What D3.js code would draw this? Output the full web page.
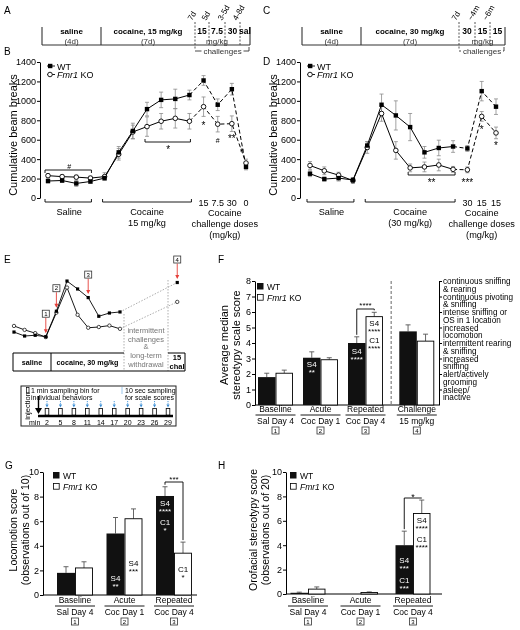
<!DOCTYPE html>
<html><head><meta charset="utf-8">
<script src="https://cdn.jsdelivr.net/npm/d3@7"></script>
<style>body{margin:0;background:#fff}svg{display:block;will-change:transform}text{-webkit-font-smoothing:antialiased}</style>
</head><body><svg id="c" width="520" height="630"></svg>
<script>
// ---------------- DATA ----------------
const aTimes = ["7d","5d","3-5d","4-8d"];
const aDoses = ["15","7.5","30","sal"];
const cTimes = ["7d","~4m","~6m"];
const cDoses = ["30","15","15"];

const lineTicks = [0,200,400,600,800,1000,1200,1400];
const bChallengeDoses = ["15","7.5","30","0"];
const bWT    = [175,180,150,170, 205,470,690,915,1010,1020,1060, 1210,960,1120,320];
const bWTerr = [20,20,30,20, 20,60,80,70,80,100,50, 50,60,60,30];
const bKO    = [230,220,215,205, 220,450,680,735,790,820,790, 940,760,765,360];
const bKOerr = [20,20,20,20, 40,60,70,100,80,100,80, 100,80,80,40];

const dChallengeDoses = ["30","15","15"];
const dWT    = [250,195,205,185, 540,960,850,730,470,515,530, 510,1100,940];
const dWTerr = [30,20,30,20, 40,110,150,140,60,80,60, 30,100,80];
const dKO    = [335,280,235,180, 520,870,490,310,320,340,295, 290,840,670];
const dKOerr = [40,40,30,30, 60,80,90,40,50,60,30, 30,50,60];

const timingMinutes = [2,5,8,11,14,17,20,23,26,29];

const fGroups = ["Baseline","Acute","Repeated","Challenge"];
const fDays   = ["Sal Day 4","Coc Day 1","Coc Day 4","15 mg/kg"];
const fBoxes  = ["1","2","3","4"];
const fTicks  = [0,1,2,3,4,5,6,7,8];
const fWT    = [1.8,3.05,4.0,4.75];
const fWTerr = [0.25,0.38,0.4,0.42];
const fKO    = [2.05,2.92,5.7,4.12];
const fKOerr = [0.2,0.13,0.28,0.45];
const fScaleLabels = [
  ["continuous sniffing","& rearing"],
  ["continuous pivoting","& sniffing"],
  ["intense sniffing or","OS in 1 location"],
  ["increased","locomotion"],
  ["intermittent rearing","& sniffing"],
  ["increased","sniffing"],
  ["alert/actively","grooming"],
  ["asleep/","inactive"]
];

const ghTicks = [0,2,4,6,8,10];
const gWT    = [1.8,5.0,8.05];
const gWTerr = [0.5,1.3,0.75];
const gKO    = [2.2,6.2,3.4];
const gKOerr = [0.5,0.8,0.9];

const hWT    = [0.1,0.0,4.0];
const hWTerr = [0.05,0,1.15];
const hKO    = [0.4,0.12,6.6];
const hKOerr = [0.18,0.05,1.1];

// ---------------- HELPERS ----------------
const FONT = '"Liberation Sans", Arial, Helvetica, sans-serif';
const svg = d3.select("#c").attr("font-family", FONT);

function T(g, x, y, s, o = {}) {
  const t = g.append("text").attr("x", x).attr("y", y)
    .attr("font-size", o.size || 9)
    .attr("text-anchor", o.anchor || "start")
    .attr("fill", o.fill || "#000");
  if (o.weight) t.attr("font-weight", o.weight);
  if (o.italic) t.attr("font-style", "italic");
  if (o.rotate != null) t.attr("transform", `rotate(${o.rotate},${x},${y})`);
  t.text(s);
  return t;
}
function L(g, x1, y1, x2, y2, o = {}) {
  const l = g.append("line").attr("x1", x1).attr("y1", y1).attr("x2", x2).attr("y2", y2)
    .attr("stroke", o.stroke || "#000").attr("stroke-width", o.w || 1);
  if (o.dash) l.attr("stroke-dasharray", o.dash);
  return l;
}
function koText(g, x, y, size) {
  const t = g.append("text").attr("x", x).attr("y", y).attr("font-size", size);
  t.append("tspan").attr("font-style", "italic").text("Fmr1");
  t.append("tspan").text(" KO");
}
function styleAxis(sel, size) {
  sel.attr("font-family", FONT).attr("font-size", size);
  sel.selectAll("text").attr("fill", "#000");
  sel.selectAll("line,path").attr("stroke", "#000");
}
function numBox(g, cx, cy, s) {
  g.append("rect").attr("x", cx - 3.5).attr("y", cy - 3.5).attr("width", 7).attr("height", 7)
    .attr("fill", "#fff").attr("stroke", "#333").attr("stroke-width", 0.8);
  T(g, cx, cy + 2.2, s, {size: 6, anchor: "middle"});
}
function bracket(g, x1, x2, y, dir) {
  L(g, x1, y, x2, y, {w: 0.9});
  L(g, x1, y, x1, y + 3 * dir, {w: 0.9});
  L(g, x2, y, x2, y + 3 * dir, {w: 0.9});
}

// ---------------- PANEL LETTERS ----------------
[["A",4,14],["B",4,55],["C",263,14],["D",263,65],["E",4,263],["F",218,263],["G",5,469],["H",218,469]]
  .forEach(([s,x,y]) => T(svg, x, y, s, {size: 10}));

// ---------------- TIMELINES A / C ----------------
function timeline(o) {
  const g = svg.append("g");
  const y = 45;
  L(g, o.x0, y, o.x1, y, {w: 1.1, stroke: "#333"});
  [o.x0, o.xDiv, o.x1].forEach(x => L(g, x, 27, x, y, {w: 1.1, stroke: "#333"}));
  o.dash.forEach((x, i) => L(g, x, 22, x, i === 0 ? 50 : y, {w: 0.9, stroke: "#444", dash: "2,1.5"}));
  T(g, (o.x0 + o.xDiv) / 2, 34, "saline", {size: 8, weight: "bold", anchor: "middle"});
  T(g, (o.x0 + o.xDiv) / 2, 43.5, "(4d)", {size: 8, anchor: "middle", fill: "#333"});
  T(g, (o.xDiv + o.dash[0]) / 2, 34, o.coc, {size: 8, weight: "bold", anchor: "middle"});
  T(g, (o.xDiv + o.dash[0]) / 2, 43.5, "(7d)", {size: 8, anchor: "middle", fill: "#333"});
  const bounds = o.dash.concat([o.x1]);
  o.doses.forEach((d, i) => T(g, (bounds[i] + bounds[i + 1]) / 2, 34, d, {size: 8.5, weight: "bold", anchor: "middle"}));
  T(g, (o.dash[1] + o.dash[2]) / 2, 43.5, "mg/kg", {size: 8, anchor: "middle", fill: "#333"});
  o.times.forEach((t, i) => T(g, o.dash[i] - 3, 21, t, {size: 8, rotate: -60}));
  const by = 51;
  L(g, o.dash[0], by, o.x1 - 1, by, {w: 0.9, stroke: "#333"});
  L(g, o.x1 - 1, by, o.x1 - 1, 47, {w: 0.9, stroke: "#333"});
  const cx = (o.dash[0] + o.x1) / 2;
  g.append("rect").attr("x", cx - 21).attr("y", 47).attr("width", 42).attr("height", 8).attr("fill", "#fff");
  T(g, cx, 54, "challenges", {size: 8, anchor: "middle", fill: "#333"});
}
timeline({x0: 42, xDiv: 101, dash: [195, 209, 225, 240], x1: 250, coc: "cocaine, 15 mg/kg", doses: aDoses, times: aTimes});
timeline({x0: 302, xDiv: 361, dash: [459, 475, 490], x1: 505, coc: "cocaine, 30 mg/kg", doses: cDoses, times: cTimes});

// ---------------- LINE PANELS B / D ----------------
function linePanel(o) {
  const g = svg.append("g");
  const n = o.wt.length;
  const x = d3.scaleLinear().domain([0, n - 1]).range([o.xFirst, o.xLast]);
  const y = d3.scaleLinear().domain([0, 1400]).range([198, 62]);
  g.append("g").attr("transform", `translate(${o.ax},0)`)
    .call(d3.axisLeft(y).tickValues(lineTicks).tickFormat(d3.format("d")).tickSize(3).tickSizeOuter(0).tickPadding(1))
    .call(s => styleAxis(s, 9));
  T(g, o.ax - 23, 135, "Cumulative beam breaks", {size: 11, anchor: "middle", rotate: -90});
  [[o.wt, o.wtErr], [o.ko, o.koErr]].forEach(([v, e]) => v.forEach((d, i) => {
    const st = {stroke: "#8c8c8c", w: 0.8};
    L(g, x(i), y(d - e[i]), x(i), y(d + e[i]), st);
    L(g, x(i) - 2, y(d + e[i]), x(i) + 2, y(d + e[i]), st);
    L(g, x(i) - 2, y(d - e[i]), x(i) + 2, y(d - e[i]), st);
  }));
  const ln = d3.line().x(d => x(d[0])).y(d => y(d[1]));
  [o.ko, o.wt].forEach(v => {
    const pts = v.map((d, i) => [i, d]);
    g.append("path").attr("d", ln(pts.slice(0, o.dashFrom + 1))).attr("fill", "none").attr("stroke", "#000").attr("stroke-width", 1);
    g.append("path").attr("d", ln(pts.slice(o.dashFrom))).attr("fill", "none").attr("stroke", "#000").attr("stroke-width", 1).attr("stroke-dasharray", "4,2.5");
  });
  g.selectAll(".ko").data(o.ko).join("circle").attr("cx", (d, i) => x(i)).attr("cy", d => y(d)).attr("r", 2.3)
    .attr("fill", "#fff").attr("stroke", "#000").attr("stroke-width", 0.9);
  g.selectAll(".wt").data(o.wt).join("rect").attr("x", (d, i) => x(i) - 2.2).attr("y", d => y(d) - 2.2)
    .attr("width", 4.4).attr("height", 4.4).attr("fill", "#000");
  const lx = o.ax + 7;
  L(g, lx, 66, lx + 8, 66, {w: 0.9});
  g.append("rect").attr("x", lx + 1).attr("y", 63.8).attr("width", 4.4).attr("height", 4.4);
  T(g, lx + 10, 69.5, "WT", {size: 9});
  L(g, lx, 74.5, lx + 8, 74.5, {w: 0.9});
  g.append("circle").attr("cx", lx + 3).attr("cy", 74.5).attr("r", 2.3).attr("fill", "#fff").attr("stroke", "#000").attr("stroke-width", 0.9);
  koText(g, lx + 10, 78, 9);
  const nc = o.doses.length;
  o.doses.forEach((d, k) => T(g, x(n - nc + k), 205.5, d, {size: 9, anchor: "middle"}));
  bracket(g, x(0) - 3, x(3) + 1, 202, -1);
  bracket(g, x(4) - 2, x(n - nc - 1) + 2, 202, -1);
  T(g, (x(0) + x(3)) / 2, 215, "Saline", {size: 9.2, anchor: "middle"});
  T(g, (x(4) + x(n - nc - 1)) / 2, 215, "Cocaine", {size: 9.2, anchor: "middle"});
  T(g, (x(4) + x(n - nc - 1)) / 2, 226, o.cocSub, {size: 9.2, anchor: "middle"});
  const chx = (x(n - nc) + x(n - 1)) / 2;
  T(g, chx, 215.5, "Cocaine", {size: 9.2, anchor: "middle"});
  T(g, chx, 226.5, "challenge doses", {size: 9.2, anchor: "middle"});
  T(g, chx, 237.5, "(mg/kg)", {size: 9.2, anchor: "middle"});
  return {g, x, y};
}

const B = linePanel({ax: 40, xFirst: 48, xLast: 246, wt: bWT, wtErr: bWTerr, ko: bKO, koErr: bKOerr, dashFrom: 10, doses: bChallengeDoses, cocSub: "15 mg/kg"});
bracket(B.g, B.x(0) - 3, B.x(3) + 1, 170, 1);
T(B.g, (B.x(0) + B.x(3)) / 2, 169, "#", {size: 7, anchor: "middle"});
bracket(B.g, B.x(7) - 2, B.x(10) + 1, 142, -1);
T(B.g, (B.x(7) + B.x(10)) / 2, 153, "*", {size: 10, anchor: "middle"});
T(B.g, B.x(11), 129, "*", {size: 10, anchor: "middle"});
T(B.g, B.x(12), 143, "#", {size: 7, anchor: "middle"});
T(B.g, B.x(13), 142, "**", {size: 10, anchor: "middle"});
T(B.g, B.x(14) - 4, 152, "#", {size: 6, anchor: "middle"});

const D = linePanel({ax: 300, xFirst: 310, xLast: 496, wt: dWT, wtErr: dWTerr, ko: dKO, koErr: dKOerr, dashFrom: 10, doses: dChallengeDoses, cocSub: "(30 mg/kg)"});
bracket(D.g, D.x(7) - 2, D.x(10) + 2, 175, -1);
T(D.g, (D.x(7) + D.x(10)) / 2, 186, "**", {size: 10, anchor: "middle"});
T(D.g, D.x(11), 186, "***", {size: 10, anchor: "middle"});
T(D.g, D.x(12), 133, "*", {size: 10, anchor: "middle"});
T(D.g, D.x(13), 149, "*", {size: 10, anchor: "middle"});

// ---------------- PANEL E ----------------
(function () {
  const g = svg.append("g");
  const x = d3.scaleLinear().domain([0, 10]).range([14, 120]);
  const y = d3.scaleLinear().domain([0, 1000]).range([350, 278.2]);
  const chalPos = 15.4;
  const wt = dWT.slice(0, 11), ko = dKO.slice(0, 11);
  const wtC = dWT[13], koC = dKO[13];
  L(g, x(10), y(wt[10]), x(chalPos), y(wtC), {stroke: "#999", w: 0.8, dash: "1.5,1.5"});
  L(g, x(10), y(ko[10]), x(chalPos), y(koC), {stroke: "#999", w: 0.8, dash: "1.5,1.5"});
  L(g, 124, 314, 124, 371, {stroke: "#999", w: 0.8, dash: "1.5,1.5"});
  L(g, 168, 280, 168, 371, {stroke: "#999", w: 0.8, dash: "1.5,1.5"});
  const ln = d3.line().x((d, i) => x(i)).y(d => y(d));
  [ko, wt].forEach(v => g.append("path").attr("d", ln(v)).attr("fill", "none").attr("stroke", "#000").attr("stroke-width", 0.9));
  g.selectAll(".k").data(ko.concat([koC])).join("circle")
    .attr("cx", (d, i) => i < 11 ? x(i) : x(chalPos)).attr("cy", d => y(d)).attr("r", 1.7)
    .attr("fill", "#fff").attr("stroke", "#000").attr("stroke-width", 0.7);
  g.selectAll(".w").data(wt.concat([wtC])).join("rect")
    .attr("x", (d, i) => (i < 11 ? x(i) : x(chalPos)) - 1.6).attr("y", d => y(d) - 1.6)
    .attr("width", 3.2).attr("height", 3.2).attr("fill", "#000");
  const red = "#e5403a";
  const arrows = [["1", 3], ["2", 4], ["3", 7], ["4", chalPos]];
  arrows.forEach(([s, i]) => {
    const px = x(i);
    const py = i === chalPos ? y(wtC) : y(Math.max(wt[i], ko[i]));
    const by = py - 23;
    L(g, px, by + 4, px, py - 5, {stroke: red, w: 0.9});
    g.append("path").attr("d", `M${px - 2},${py - 7.5} L${px + 2},${py - 7.5} L${px},${py - 3.5} Z`).attr("fill", red);
    numBox(g, px, by, s);
  });
  L(g, 13, 371, 185, 371, {w: 1});
  L(g, 13, 353, 124, 353, {w: 1});
  L(g, 168, 353, 185, 353, {w: 1});
  L(g, 13, 353, 13, 371, {w: 1});
  L(g, 51, 353, 51, 371, {w: 1});
  L(g, 185, 353, 185, 371, {w: 1});
  T(g, 32, 364.5, "saline", {size: 7.2, weight: "bold", anchor: "middle"});
  T(g, 87.5, 364.5, "cocaine, 30 mg/kg", {size: 7.2, weight: "bold", anchor: "middle"});
  T(g, 177, 360, "15", {size: 7.5, weight: "bold", anchor: "middle"});
  T(g, 177, 369, "chal", {size: 7.5, weight: "bold", anchor: "middle"});
  [["intermittent", 333], ["challenges", 341.5], ["&", 349], ["long-term", 358], ["withdrawal", 366.5]]
    .forEach(([s, yy]) => T(g, 146, yy, s, {size: 7.5, anchor: "middle", fill: "#777"}));

  // timing box
  g.append("rect").attr("x", 21).attr("y", 386).attr("width", 155).attr("height", 40)
    .attr("fill", "none").attr("stroke", "#222").attr("stroke-width", 1);
  g.append("rect").attr("x", 26.5).attr("y", 387.5).attr("width", 2.5).attr("height", 5.5)
    .attr("fill", "#fff").attr("stroke", "#000").attr("stroke-width", 0.7);
  T(g, 31, 392.5, "1 min sampling bin for", {size: 7});
  T(g, 31, 400, "individual behaviors", {size: 7});
  L(g, 122, 387.5, 122, 394, {stroke: "#3b8ed6", w: 1, dash: "1,1"});
  T(g, 125, 392.5, "10 sec sampling", {size: 7});
  T(g, 125, 400, "for scale scores", {size: 7});
  T(g, 30, 406, "injection", {size: 7.5, anchor: "middle", rotate: -90});
  L(g, 38.5, 396, 38.5, 410, {w: 1.4});
  g.append("path").attr("d", "M35,408 L42,408 L38.5,414 Z").attr("fill", "#000");
  const tx = d3.scaleLinear().domain([2, 29]).range([47, 168]);
  L(g, 38, 416, 173, 416, {w: 2.6});
  timingMinutes.forEach(m => {
    const cx = tx(m);
    L(g, cx, 401, cx, 405, {stroke: "#3b8ed6", w: 0.9, dash: "1.2,1"});
    g.append("path").attr("d", `M${cx - 1.6},${404.5} L${cx + 1.6},${404.5} L${cx},${407.5} Z`).attr("fill", "#3b8ed6");
    g.append("rect").attr("x", cx - 1.8).attr("y", 408.5).attr("width", 3.6).attr("height", 6.5)
      .attr("fill", "#fff").attr("stroke", "#000").attr("stroke-width", 0.8);
    T(g, cx, 424.5, String(m), {size: 7, anchor: "middle"});
  });
  T(g, 29, 424.5, "min", {size: 7});
})();

// ---------------- BAR PANELS F / G / H ----------------
function barPanel(o) {
  const g = svg.append("g");
  const y = d3.scaleLinear().domain([0, o.ymax]).range([o.y0, o.y1]);
  const xc = d3.scaleLinear().domain([0, 1]).range([o.c0, o.c0 + o.step]);
  const centers = o.pos.map(p => xc(p));
  g.append("g").attr("transform", `translate(${o.ax},0)`)
    .call(d3.axisLeft(y).tickValues(o.ticks).tickFormat(d3.format("d")).tickSize(3).tickSizeOuter(0).tickPadding(1))
    .call(s => styleAxis(s, 9));
  L(g, o.ax, y(0), o.axEnd, y(0));
  const eb = (cx, v, e) => {
    if (e <= 0) return;
    const st = {stroke: "#555", w: 0.9};
    L(g, cx, y(v), cx, y(v + e), st);
    L(g, cx - 2.5, y(v + e), cx + 2.5, y(v + e), st);
  };
  o.wt.forEach((v, i) => {
    const c = centers[i];
    eb(c - o.bw / 2, v, o.wtErr[i]);
    g.append("rect").attr("x", c - o.bw).attr("y", y(v)).attr("width", o.bw).attr("height", y(0) - y(v)).attr("fill", "#111");
  });
  o.ko.forEach((v, i) => {
    const c = centers[i];
    eb(c + o.bw / 2, v, o.koErr[i]);
    g.append("rect").attr("x", c + 0.5).attr("y", y(v)).attr("width", o.bw - 1).attr("height", y(0) - y(v))
      .attr("fill", "#fff").attr("stroke", "#000").attr("stroke-width", 0.9);
  });
  g.append("rect").attr("x", o.legX).attr("y", o.legY).attr("width", 6.5).attr("height", 6.5).attr("fill", "#111");
  g.append("rect").attr("x", o.legX + 0.4).attr("y", o.legY + 11.4).attr("width", 5.8).attr("height", 5.8)
    .attr("fill", "#fff").attr("stroke", "#000").attr("stroke-width", 0.8);
  T(g, o.legX + 10, o.legY + 6.5, "WT", {size: 8.5});
  koText(g, o.legX + 10, o.legY + 18, 8.5);
  o.groups.forEach((s, i) => {
    const c = centers[i];
    T(g, c, o.lab, s, {size: 8.5, anchor: "middle"});
    L(g, c - 20, o.lab + 3, c + 20, o.lab + 3, {w: 0.9});
    T(g, c, o.lab + 12, o.days[i], {size: 8.5, anchor: "middle"});
    numBox(g, c, o.lab + 18.5, o.boxes[i]);
  });
  return {g, y, centers};
}

// F
const F = barPanel({ax: 255, axEnd: 439, ymax: 8, y0: 405, y1: 281, ticks: fTicks, c0: 275.5, step: 45, pos: [0, 1, 2, 3.14],
  bw: 17.5, wt: fWT, wtErr: fWTerr, ko: fKO, koErr: fKOerr, groups: fGroups, days: fDays, boxes: fBoxes, lab: 412, legX: 257, legY: 283});
T(F.g, 228, 345, "Average median", {size: 11, anchor: "middle", rotate: -90});
T(F.g, 240, 345, "stereotypy scale score", {size: 11, anchor: "middle", rotate: -90});
L(F.g, (F.centers[2] + F.centers[3]) / 2, 281, (F.centers[2] + F.centers[3]) / 2, 405, {stroke: "#555", w: 0.9, dash: "3,2"});
F.g.append("g").attr("transform", "translate(439,0)")
  .call(d3.axisRight(F.y).tickValues([1, 2, 3, 4, 5, 6, 7, 8]).tickSize(3).tickSizeOuter(0).tickFormat(""))
  .call(s => styleAxis(s, 8));
fScaleLabels.forEach((ls, i) => {
  const lv = 8 - i;
  T(F.g, 443, F.y(lv) + 3.2, ls[0], {size: 8.2});
  T(F.g, 443, F.y(lv) + 10.8, ls[1], {size: 8.2});
});
{
  const cw = F.centers[1] - 17.5 / 2;
  T(F.g, cw, 367, "S4", {size: 8, anchor: "middle", fill: "#fff"});
  T(F.g, cw, 375, "**", {size: 8, anchor: "middle", fill: "#fff"});
  const rw = F.centers[2] - 17.5 / 2, rk = F.centers[2] + 17.5 / 2;
  T(F.g, rw, 354, "S4", {size: 8, anchor: "middle", fill: "#fff"});
  T(F.g, rw, 362, "****", {size: 8, anchor: "middle", fill: "#fff"});
  T(F.g, rk, 326, "S4", {size: 8, anchor: "middle"});
  T(F.g, rk, 334, "****", {size: 8, anchor: "middle"});
  T(F.g, rk, 343, "C1", {size: 8, anchor: "middle"});
  T(F.g, rk, 351, "****", {size: 8, anchor: "middle"});
  const top = 309;
  L(F.g, rw, F.y(fWT[2] + fWTerr[2]) - 2, rw, top, {w: 0.9});
  L(F.g, rw, top, rk, top, {w: 0.9});
  L(F.g, rk, top, rk, F.y(fKO[2] + fKOerr[2]) - 2, {w: 0.9});
  T(F.g, (rw + rk) / 2, 308, "****", {size: 8, anchor: "middle"});
}

// G
const G = barPanel({ax: 43, axEnd: 197, ymax: 10, y0: 595, y1: 472, ticks: ghTicks, c0: 75, step: 49.5, pos: [0, 1, 2],
  bw: 18, wt: gWT, wtErr: gWTerr, ko: gKO, koErr: gKOerr, groups: fGroups.slice(0, 3), days: fDays.slice(0, 3), boxes: fBoxes.slice(0, 3), lab: 603, legX: 53, legY: 472});
T(G.g, 17, 530, "Locomotion score", {size: 10.5, anchor: "middle", rotate: -90});
T(G.g, 29, 530, "(observations out of 10)", {size: 10.5, anchor: "middle", rotate: -90});
{
  const aw = G.centers[1] - 9, ak = G.centers[1] + 9, rw = G.centers[2] - 9, rk = G.centers[2] + 9;
  T(G.g, aw, 581, "S4", {size: 8, anchor: "middle", fill: "#fff"});
  T(G.g, aw, 589, "**", {size: 8, anchor: "middle", fill: "#fff"});
  T(G.g, ak, 566, "S4", {size: 8, anchor: "middle"});
  T(G.g, ak, 574, "***", {size: 8, anchor: "middle"});
  T(G.g, rw, 506, "S4", {size: 8, anchor: "middle", fill: "#fff"});
  T(G.g, rw, 514, "****", {size: 8, anchor: "middle", fill: "#fff"});
  T(G.g, rw, 525, "C1", {size: 8, anchor: "middle", fill: "#fff"});
  T(G.g, rw, 533, "*", {size: 8, anchor: "middle", fill: "#fff"});
  T(G.g, rk, 572, "C1", {size: 8, anchor: "middle"});
  T(G.g, rk, 580, "*", {size: 8, anchor: "middle"});
  const top = 482;
  L(G.g, rw, G.y(gWT[2] + gWTerr[2]) - 2, rw, top, {w: 0.9});
  L(G.g, rw, top, rk, top, {w: 0.9});
  L(G.g, rk, top, rk, G.y(gKO[2] + gKOerr[2]) - 2, {w: 0.9});
  T(G.g, (rw + rk) / 2, 482, "***", {size: 8, anchor: "middle"});
}

// H
const Hp = barPanel({ax: 286, axEnd: 442, ymax: 10, y0: 594, y1: 472, ticks: ghTicks, c0: 308, step: 52.5, pos: [0, 1, 2],
  bw: 17.5, wt: hWT, wtErr: hWTerr, ko: hKO, koErr: hKOerr, groups: fGroups.slice(0, 3), days: fDays.slice(0, 3), boxes: fBoxes.slice(0, 3), lab: 603, legX: 290, legY: 472});
T(Hp.g, 257, 530, "Orofacial stereotypy score", {size: 10.5, anchor: "middle", rotate: -90});
T(Hp.g, 269, 530, "(observations out of 20)", {size: 10.5, anchor: "middle", rotate: -90});
{
  const rw = Hp.centers[2] - 8.75, rk = Hp.centers[2] + 8.75;
  T(Hp.g, rw, 563, "S4", {size: 8, anchor: "middle", fill: "#fff"});
  T(Hp.g, rw, 571, "***", {size: 8, anchor: "middle", fill: "#fff"});
  T(Hp.g, rw, 583, "C1", {size: 8, anchor: "middle", fill: "#fff"});
  T(Hp.g, rw, 591, "***", {size: 8, anchor: "middle", fill: "#fff"});
  T(Hp.g, rk, 523, "S4", {size: 8, anchor: "middle"});
  T(Hp.g, rk, 531, "****", {size: 8, anchor: "middle"});
  T(Hp.g, rk, 542, "C1", {size: 8, anchor: "middle"});
  T(Hp.g, rk, 550, "****", {size: 8, anchor: "middle"});
  const top = 498;
  L(Hp.g, rw, Hp.y(hWT[2] + hWTerr[2]) - 2, rw, top, {w: 0.9});
  L(Hp.g, rw, top, rk, top, {w: 0.9});
  L(Hp.g, rk, top, rk, Hp.y(hKO[2] + hKOerr[2]) - 2, {w: 0.9});
  T(Hp.g, (rw + rk) / 2, 500, "*", {size: 9, anchor: "middle"});
}
</script></body></html>
